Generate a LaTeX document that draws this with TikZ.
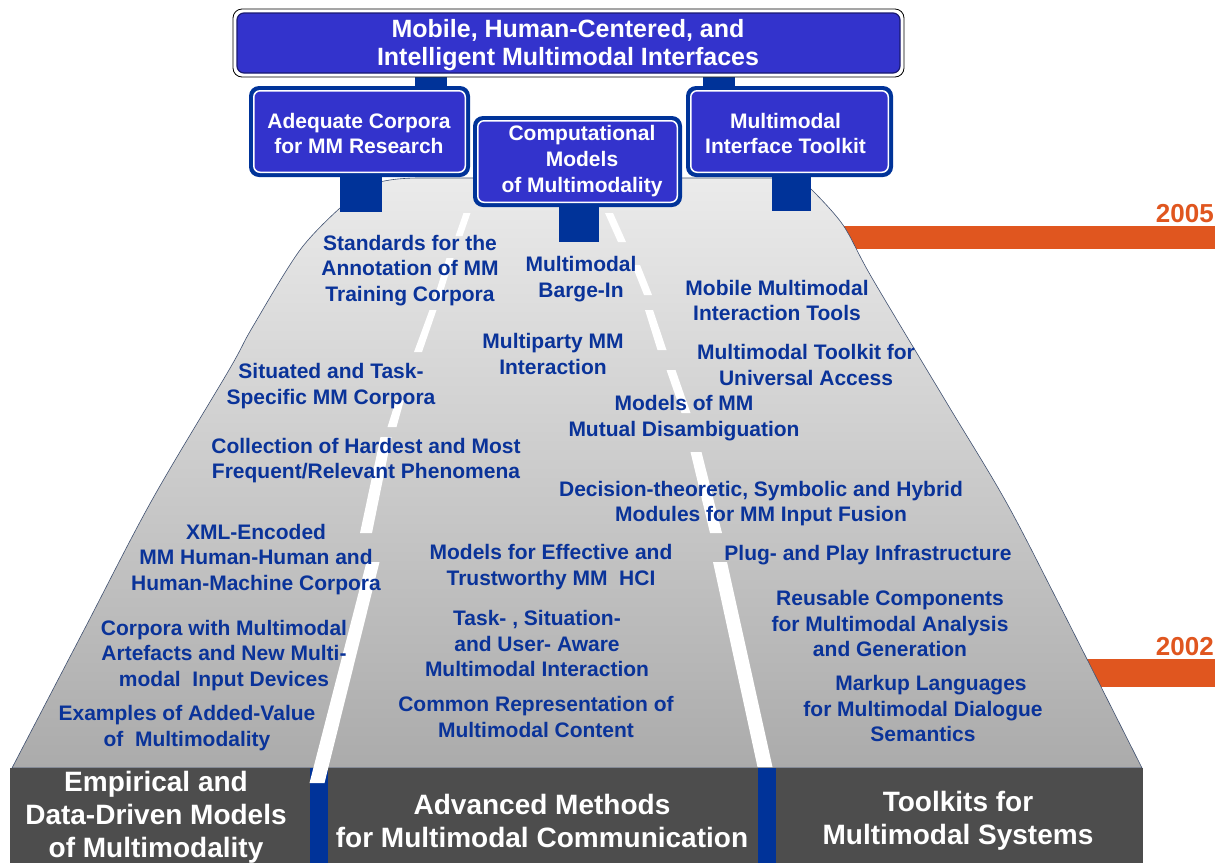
\documentclass[tikz,border=0pt]{standalone}
\usepackage{fontspec}
\setmainfont{Liberation Sans}
\definecolor{signblue}{HTML}{3333CC}
\definecolor{postblue}{HTML}{003399}
\definecolor{roadtext}{HTML}{0A3399}
\definecolor{boxgray}{HTML}{4D4D4D}
\definecolor{yearorange}{HTML}{E0561F}
\definecolor{roadtop}{HTML}{EBEBEB}
\definecolor{roadbot}{HTML}{ABABAB}
\definecolor{roadedge}{HTML}{3F5070}
\definecolor{signedge}{HTML}{1A1A70}
\newcommand\signshape[4]{%
  \fill[postblue, rounded corners=10pt] (#1,#2) rectangle (#3,#4);
  \fill[white, rounded corners=7pt] ({#1+4},{#2+4}) rectangle ({#3-4},{#4-4});
  \fill[signblue, rounded corners=6pt] ({#1+5.5},{#2+5.5}) rectangle ({#3-5.5},{#4-5.5});}
\newcommand\roaddash[6]{%
  \fill[white] ({#1-#3/2},#2) -- ({#1+#3/2},#2) -- ({#4+#6/2},#5) -- ({#4-#6/2},#5) -- cycle;}
\begin{document}
\begin{tikzpicture}[x=1pt,y=-1pt,
  rt/.style={font=\fontsize{21}{25.5}\selectfont\bfseries, text=roadtext, align=center, inner sep=0pt},
  signtext/.style={font=\fontsize{21}{25.5}\selectfont\bfseries, text=white, align=center, inner sep=0pt},
  toptext/.style={font=\fontsize{25}{28}\selectfont\bfseries, text=white, align=center, inner sep=0pt},
  boxtext/.style={font=\fontsize{28}{33}\selectfont\bfseries, text=white, align=center, inner sep=0pt},
  yeartext/.style={font=\fontsize{26}{30}\selectfont\bfseries, text=yearorange, inner sep=0pt, anchor=east}]
\useasboundingbox (0,0) rectangle (1219,863);
\fill[white] (0,0) rectangle (1219,863);

% year bars (behind road)
\fill[yearorange] (820,226) rectangle (1215,249);
\fill[yearorange] (1060,659) rectangle (1215,687);
\node[yeartext] (y2005) at (1214,214) {2005};
\node[yeartext] (y2002) at (1214,647) {2002};

% road
\shadedraw[top color=roadtop, bottom color=roadbot, draw=roadedge, line width=0.6pt]
  plot[smooth, tension=0.55] coordinates {(12,768) (84,630) (152,500) (229,370) (252,328) (300,250) (340,208)}
  .. controls (355,186) and (380,178) .. (420,178) -- (770,178)
  .. controls (795,178) and (806,183) .. (812,190)
  -- plot[smooth, tension=0.55] coordinates {(812,190) (843,225) (872,278) (945,400) (1005,500) (1057,600) (1142,768)}
  -- cycle;

% bottom boxes
\fill[boxgray] (10,768) rectangle (310,863);
\fill[boxgray] (328,768) rectangle (758,863);
\fill[boxgray] (776,768) rectangle (1143,863);
\fill[postblue] (310,768) rectangle (328,863);
\fill[postblue] (758,768) rectangle (776,863);

% lane dividers (left)
\roaddash{467}{213}{7}{459}{236}{7}
\roaddash{450}{258}{7}{437}{300}{7}
\roaddash{433}{310}{7}{418}{352}{8}
\roaddash{400}{400}{8}{392}{427}{9}
\roaddash{386}{437}{11}{366}{533}{12}
\roaddash{373}{562}{13}{317}{783}{15}
% lane dividers (right)
\roaddash{609}{213}{8}{622}{242}{8}
\roaddash{636}{265}{8}{648}{295}{8}
\roaddash{649}{310}{8}{662}{350}{9}
\roaddash{671}{370}{9}{686}{413}{9}
\roaddash{696}{452}{11}{716}{533}{12}
\roaddash{720}{562}{14}{765}{767}{15}

% posts
\fill[postblue] (415,70) rectangle (447,90);
\fill[postblue] (703,70) rectangle (735,90);
\fill[postblue] (340,170) rectangle (382,212);
\fill[postblue] (559,200) rectangle (599,242);
\fill[postblue] (772,170) rectangle (811,211);

% signs
\draw[black, line width=0.8pt, fill=white, rounded corners=9pt] (233,9) rectangle (904,77);
\fill[signblue, draw=signedge, line width=1.2pt, rounded corners=7pt] (237,13) rectangle (900,73);
\node[toptext] (top) at (568,45) {Mobile, Human-Centered, and\\Intelligent Multimodal Interfaces};

\signshape{249}{86}{470}{177}
\node[signtext] (corpora) at (359,133.5) {Adequate Corpora\\for MM Research};
\signshape{686}{86}{893}{177}
\node[signtext] (toolkit) at (785.5,133.5) {Multimodal\\Interface Toolkit};
\signshape{473}{116}{682}{207}
\node[signtext, font=\fontsize{21}{26}\selectfont\bfseries] (comp) at (582,161) {Computational\\Models\\of Multimodality};

% road texts
\node[rt] (t1) at (410,270.5) {Standards for the\\Annotation of MM\\Training Corpora};
\node[rt] (t2) at (581,279) {Multimodal\\Barge-In};
\node[rt] (t3) at (777,300.5) {Mobile Multimodal\\Interaction Tools};
\node[rt] (t4) at (553,354) {Multiparty MM\\Interaction};
\node[rt] (t5) at (806,365) {Multimodal Toolkit for\\Universal Access};
\node[rt] (t6) at (331,386) {Situated and Task-\\Specific MM Corpora};
\node[rt] (t7) at (684,418) {Models of MM\\Mutual Disambiguation};
\node[rt] (t8) at (366,460.5) {Collection of Hardest and Most\\Frequent/Relevant Phenomena};
\node[rt] (t9) at (761,503.5) {Decision-theoretic, Symbolic and Hybrid\\Modules for MM Input Fusion};
\node[rt] (t10) at (256,559.5) {XML-Encoded\\MM Human-Human and\\Human-Machine Corpora};
\node[rt] (t11) at (551,567) {Models for Effective and\\Trustworthy MM\ \ HCI};
\node[rt] (t12) at (868,555) {Plug- and Play Infrastructure};
\node[rt] (t13) at (537,643.5) {Task- , Situation-\\and User- Aware\\Multimodal Interaction};
\node[rt] (t14) at (890,623.5) {Reusable Components\\for Multimodal Analysis\\and Generation};
\node[rt] (t15) at (224,655.5) {Corpora with Multimodal\\Artefacts and New Multi-\\modal\ \ Input Devices};
\node[rt] (t16) at (923,708.5) {\hspace*{16pt}Markup Languages\\for Multimodal Dialogue\\Semantics};
\node[rt] (t17) at (536,717) {Common Representation of\\Multimodal Content};
\node[rt] (t18) at (187,728) {Examples of Added-Value\\of\ \ Multimodality};

% bottom texts
\node[boxtext] (b1) at (156,817) {Empirical and\\Data-Driven Models\\of Multimodality};
\node[boxtext] (b2) at (542,820.5) {Advanced Methods\\for Multimodal Communication};
\node[boxtext] (b3) at (958,820.5) {Toolkits for\\Multimodal Systems};
\end{tikzpicture}
\end{document}
